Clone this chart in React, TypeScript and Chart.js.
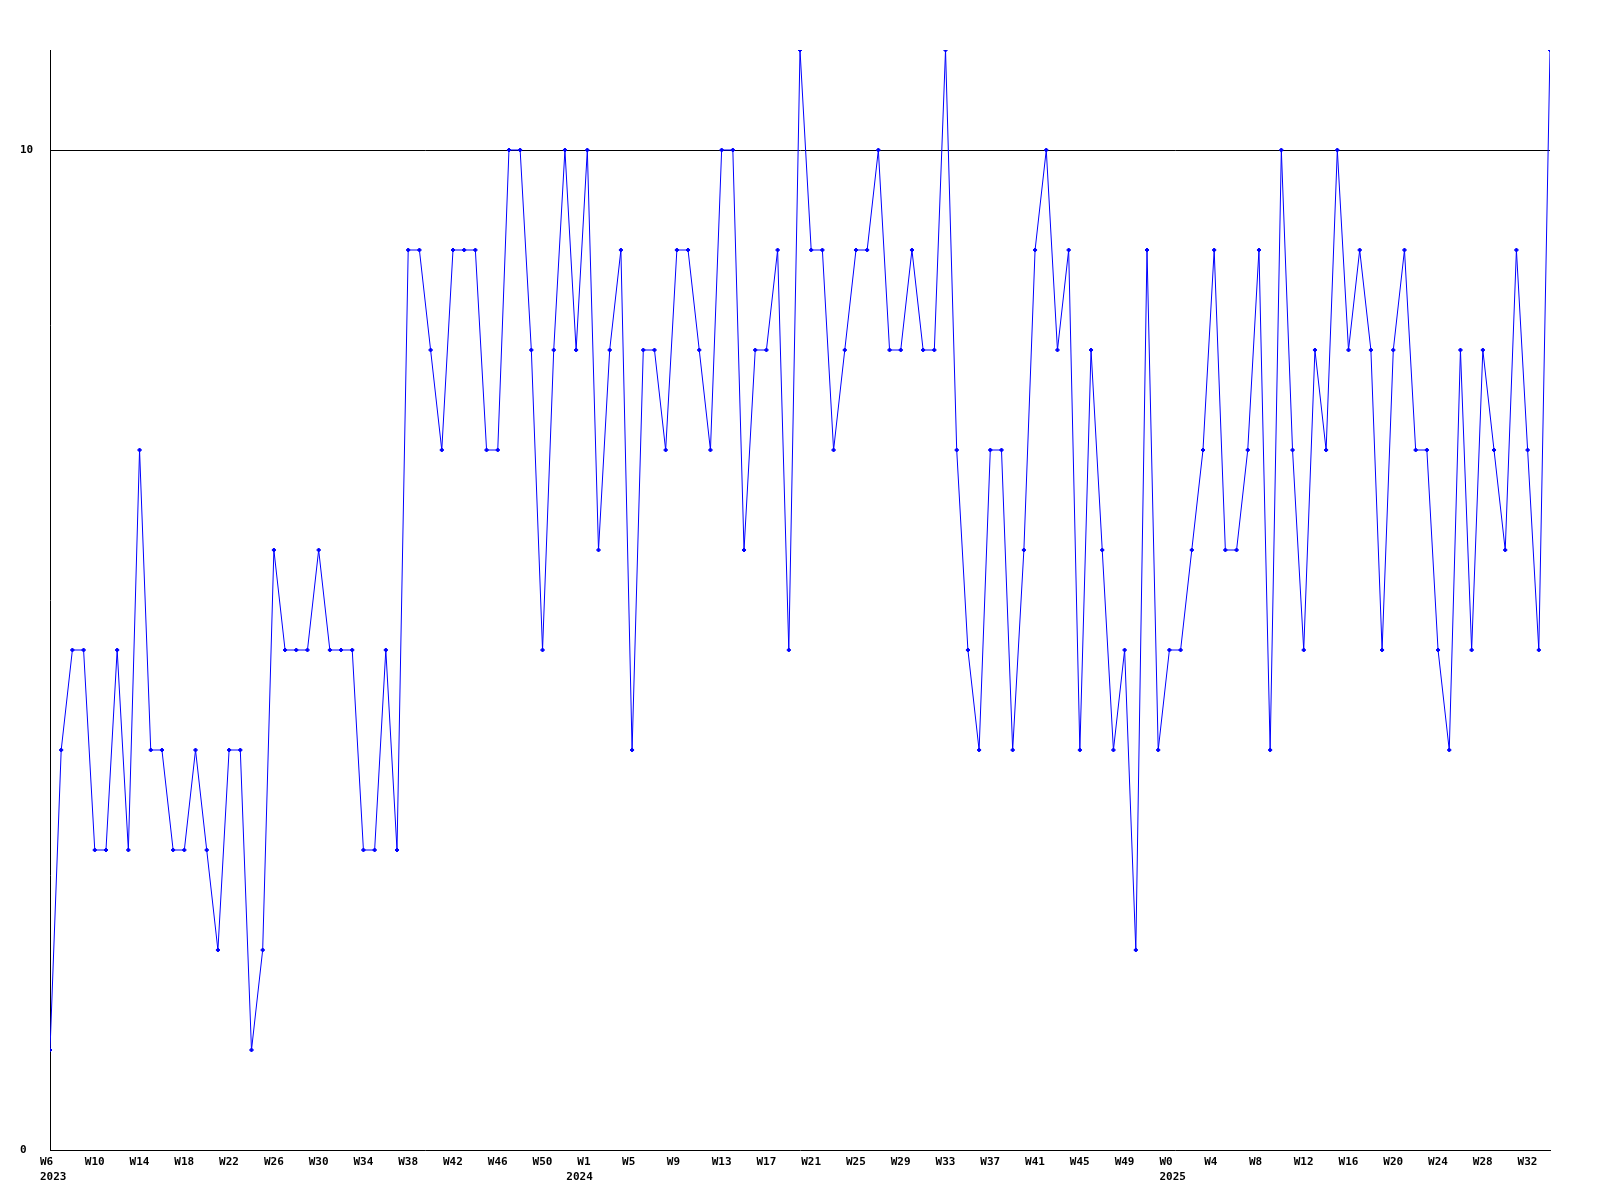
import { useEffect, useRef } from "react";
import { Chart, registerables } from "chart.js";

Chart.register(...registerables);

// Weekly values, 2023 W6 through 2025 W34 (one point per week)
const values2023 = [
  1, 4, 5, 5, 3, 3, 5, 3, 7, 4, 4, 3, 3, 4, 3, 2, 4, 4, 1, 2, 6, 5, 5,
  5, 6, 5, 5, 5, 3, 3, 5, 3, 9, 9, 8, 7, 9, 9, 9, 7, 7, 10, 10, 8, 5, 8,
  10, 8,
];
const values2024 = [
  10, 6, 8, 9, 4, 8, 8, 7, 9, 9, 8, 7, 10, 10, 6, 8, 8, 9, 5, 11, 9,
  9, 7, 8, 9, 9, 10, 8, 8, 9, 8, 8, 11, 7, 5, 4, 7, 7, 4, 6, 9, 10, 8, 9, 4, 8, 6, 4, 5, 2, 9, 4,
];
const values2025 = [
  5, 5, 6, 7, 9, 6, 6, 7, 9, 4, 10, 7, 5, 8, 7, 10, 8, 9, 8, 5, 8, 9, 7, 7, 5, 4, 8, 5, 8, 7, 6, 9, 7, 5, 11,
];
const values = [...values2023, ...values2024, ...values2025];

// One label every 4 weeks
const tickLabels: (string | string[])[] = [
  ["W6", "2023"], "W10", "W14", "W18", "W22", "W26", "W30", "W34", "W38", "W42", "W46", "W50",
  ["W1", "2024"], "W5", "W9", "W13", "W17", "W21", "W25", "W29", "W33", "W37", "W41", "W45", "W49",
  ["W0", "2025"], "W4", "W8", "W12", "W16", "W20", "W24", "W28", "W32",
];
const tickEvery = 4;
const yTickValues = [0, 10];
const yMax = 11;
// horizontal nudge of the year line under some labels
const yearLineShift: Record<string, number> = { "2024": -11 };

export default function App() {
  const ref = useRef<HTMLCanvasElement>(null);

  useEffect(() => {
    const font = {
      family: "'DejaVu Sans Mono', 'Liberation Mono', monospace",
      size: 11,
      weight: "bold" as const,
      lineHeight: 15 / 11,
    };
    const chart = new Chart(ref.current!, {
      type: "line",
      data: {
        datasets: [
          {
            data: values.map((v, i) => ({ x: i, y: v })),
            borderColor: "#0000ff",
            backgroundColor: "#0000ff",
            borderWidth: 1,
            pointStyle: "rectRot",
            pointRadius: 2,
            pointBorderWidth: 1,
            tension: 0,
            fill: false,
          },
        ],
      },
      options: {
        responsive: false,
        animation: false,
        devicePixelRatio: 1,
        layout: { padding: { left: 20, top: 50, right: 50, bottom: 0 } },
        plugins: { legend: { display: false }, tooltip: { enabled: false } },
        scales: {
          x: {
            type: "linear",
            min: 0,
            max: values.length - 1,
            afterFit: (s: any) => {
              s.height = 50;
            },
            afterUpdate: (s: any) => {
              if (s.__wrapped) return;
              s.__wrapped = true;
              const orig = s._computeLabelItems.bind(s);
              s._computeLabelItems = (ca: any) => {
                const items = orig(ca);
                const out: any[] = [];
                for (const it of items) {
                  const lbl = it.label;
                  if (Array.isArray(lbl) && lbl.length > 1 && yearLineShift[lbl[1]] !== undefined) {
                    const [x, y] = it.options.translation;
                    out.push({ ...it, label: [lbl[0]] });
                    out.push({
                      ...it,
                      label: ["", lbl[1]],
                      options: { ...it.options, translation: [x + yearLineShift[lbl[1]], y] },
                    });
                  } else {
                    out.push(it);
                  }
                }
                return out;
              };
            },
            grid: { display: false, drawTicks: false },
            border: { display: true, color: "#000", width: 1 },
            ticks: {
              stepSize: tickEvery,
              includeBounds: false,
              autoSkip: false,
              maxRotation: 0,
              minRotation: 0,
              align: "start",
              labelOffset: -10,
              padding: 5,
              color: "#000",
              font,
              callback: (v: any) => {
                const n = Number(v);
                if (n % tickEvery !== 0) return "";
                return tickLabels[n / tickEvery] ?? "";
              },
            },
          },
          y: {
            min: 0,
            max: yMax,
            afterFit: (s: any) => {
              s.width = 30;
            },
            grid: {
              drawTicks: false,
              lineWidth: 1,
              color: (ctx: any) =>
                ctx.tick && ctx.tick.value === 10 ? "#000" : "rgba(0,0,0,0)",
            },
            border: { display: true, color: "#000", width: 1 },
            ticks: {
              stepSize: 10,
              includeBounds: false,
              crossAlign: "far",
              padding: 0,
              color: "#000",
              font,
              callback: (v: any) => (yTickValues.includes(Number(v)) ? String(v) : ""),
            },
          },
        },
      },
    } as any);
    return () => chart.destroy();
  }, []);

  return (
    <div
      style={{
        position: "fixed",
        left: 0,
        top: 0,
        width: 1600,
        height: 1200,
        background: "#fff",
      }}
    >
      <canvas ref={ref} width={1600} height={1200} style={{ display: "block" }} />
    </div>
  );
}
